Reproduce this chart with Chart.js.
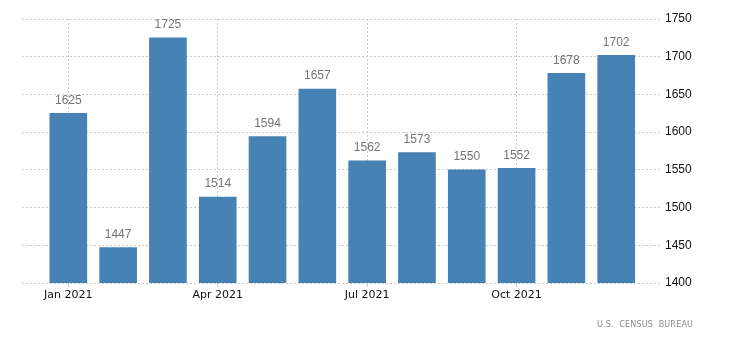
<!DOCTYPE html>
<html>
<head>
<meta charset="utf-8">
<script src="https://cdn.jsdelivr.net/npm/chart.js@4.4.1/dist/chart.umd.min.js"></script>
<style>
  html, body { margin: 0; padding: 0; background: #fff; }
  #wrap { position: relative; width: 729px; height: 349px; }
  #source {
    position: absolute; left: 597px; top: 320px;
    font: 8px "DejaVu Sans", sans-serif; letter-spacing: 0.2px;
    color: #8a8a8a; white-space: nowrap;
  }
</style>
</head>
<body>
<div id="wrap">
  <canvas id="chart" width="729" height="349"></canvas>
  <div id="source">U.S.&nbsp; CENSUS&nbsp; BUREAU</div>
</div>
<script>
// data
var months = ['Jan 2021', 'Feb 2021', 'Mar 2021', 'Apr 2021', 'May 2021', 'Jun 2021',
              'Jul 2021', 'Aug 2021', 'Sep 2021', 'Oct 2021', 'Nov 2021', 'Dec 2021'];
var starts = [1625, 1447, 1725, 1514, 1594, 1657, 1562, 1573, 1550, 1552, 1678, 1702];
var xTickIdx = [0, 3, 6, 9];
var yTicks = [1400, 1450, 1500, 1550, 1600, 1650, 1700, 1750];

var colors = {
    bar: '#4682b4',
    label: '#747474',
    grid: '#cccccc',
    tick: '#111111'
};

// values above each bar
var barLabels = {
    id: 'barLabels',
    afterDatasetsDraw: function (chart) {
        var ctx = chart.ctx;
        var meta = chart.getDatasetMeta(0);
        ctx.save();
        ctx.font = '12px "Liberation Sans", Arial, sans-serif';
        ctx.fillStyle = colors.label;
        ctx.textAlign = 'center';
        ctx.textBaseline = 'bottom';
        meta.data.forEach(function (bar, i) {
            ctx.fillText(String(starts[i]), bar.x, bar.y - 7);
        });
        ctx.restore();
    }
};

new Chart(document.getElementById('chart'), {
    type: 'bar',
    data: {
        datasets: [{
            data: starts.map(function (v, i) { return { x: i, y: v }; }),
            backgroundColor: colors.bar,
            borderWidth: 0,
            barThickness: 37
        }]
    },
    options: {
        responsive: false,
        animation: false,
        events: [],
        layout: { padding: { left: 22, top: 19, right: 0, bottom: 0 } },
        plugins: {
            legend: { display: false },
            tooltip: { enabled: false }
        },
        scales: {
            x: {
                type: 'linear',
                offset: false,
                min: -0.93,
                max: 11.88,
                afterBuildTicks: function (scale) {
                    scale.ticks = xTickIdx.map(function (v) { return { value: v }; });
                },
                afterFit: function (scale) { scale.height = 66; },
                ticks: {
                    autoSkip: false,
                    maxRotation: 0,
                    padding: 2,
                    color: colors.tick,
                    font: { family: '"DejaVu Sans", sans-serif', size: 11 },
                    callback: function (v) { return months[v]; }
                },
                grid: {
                    offset: false,
                    color: colors.grid,
                    tickLength: 4,
                    tickColor: colors.grid
                },
                border: { display: false, dash: [2, 2] }
            },
            y: {
                position: 'right',
                min: 1400,
                max: 1750,
                afterBuildTicks: function (scale) {
                    scale.ticks = yTicks.map(function (v) { return { value: v }; });
                },
                afterFit: function (scale) { scale.width = 69; },
                ticks: {
                    padding: 5,
                    color: colors.tick,
                    font: { family: '"Liberation Sans", Arial, sans-serif', size: 12 },
                    callback: function (v) { return String(v); }
                },
                grid: {
                    color: colors.grid,
                    drawTicks: false
                },
                border: { display: false, dash: [2, 2] }
            }
        }
    },
    plugins: [barLabels]
});
</script>
</body>
</html>
